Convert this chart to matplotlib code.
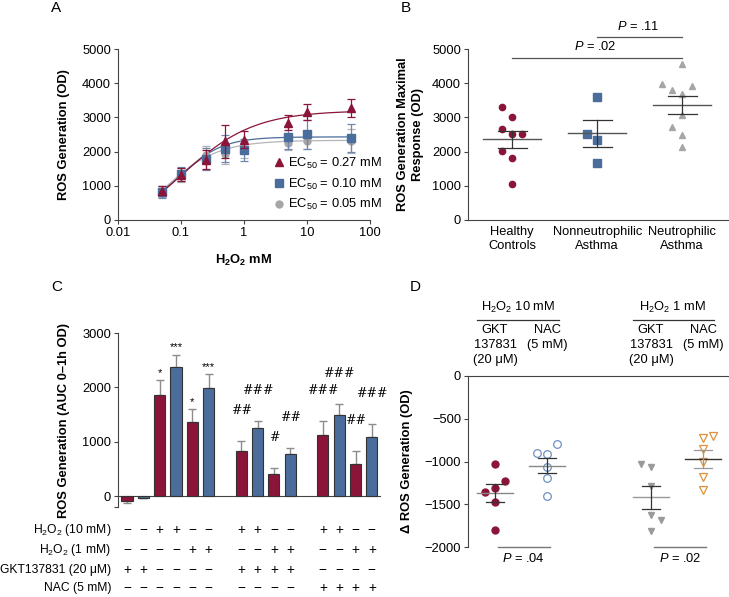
import numpy as np
import matplotlib
matplotlib.use('Agg')
import matplotlib.pyplot as plt
import matplotlib.transforms as mtrans
from matplotlib.lines import Line2D
from matplotlib.ticker import NullLocator

plt.rcParams['font.family'] = ['Liberation Sans', 'DejaVu Sans']
plt.rcParams['mathtext.fontset'] = 'custom'
plt.rcParams['mathtext.rm'] = 'Liberation Sans'
plt.rcParams['mathtext.it'] = 'Liberation Sans:italic'
plt.rcParams['mathtext.bf'] = 'Liberation Sans:bold'
plt.rcParams['font.size'] = 9.3

FS = 9.3
RED = '#8b1538'
BLUE = '#4a6d9c'
GRAY = '#a6a6a6'
ORANGE = '#e0913a'
LBLUE = '#6f90c4'
AXC = '#444444'

# ---- panel A: dose response
conc = [0.05, 0.1, 0.25, 0.5, 1, 5, 10, 50]
a_red = [860, 1330, 1760, 2300, 2350, 2840, 3160, 3280]
a_red_err = [120, 200, 280, 490, 250, 220, 240, 260]
a_blue = [810, 1345, 1780, 2090, 2040, 2420, 2510, 2400]
a_blue_err = [170, 200, 330, 400, 320, 330, 420, 420]
a_gray = [830, 1320, 1900, 1930, 2050, 2250, 2320, 2300]
a_gray_err = [150, 200, 250, 300, 250, 200, 250, 350]
a_labels = ['EC$_{50}$ = 0.27 mM', 'EC$_{50}$ = 0.10 mM', 'EC$_{50}$ = 0.05 mM']
# hill fit parameters (bottom, top, midpoint, slope) for red, blue, gray
fit_bottom = [-600, 200, -600]
fit_top = [3200, 2430, 2330]
fit_mid = [0.1, 0.1, 0.05]
fit_slope = [0.75, 1.3, 1.0]

# ---- panel B: maximal response
b_cats = ['Healthy\nControls', 'Nonneutrophilic\nAsthma', 'Neutrophilic\nAsthma']
b_healthy = [3290, 3000, 2670, 2520, 2520, 2030, 1810, 1040]
b_healthy_jit = [-0.12, 0, -0.12, 0, 0.12, -0.12, 0, 0]
b_non = [3600, 2520, 2330, 1680]
b_non_jit = [0, -0.12, 0, 0]
b_neu = [4570, 3980, 3790, 3680, 3910, 3060, 2710, 2480, 2140]
b_neu_jit = [0, -0.24, -0.12, 0, 0.12, 0, -0.12, 0, 0]

# ---- panel C: bars
c_vals = [-90, -35, 1860, 2370, 1370, 1985, 835, 1260, 400, 775, 1125, 1495, 590, 1090]
c_errs = [45, 0, 270, 230, 235, 265, 185, 130, 120, 117, 265, 197, 246, 230]
c_marks = ['', '', '*', '***', '*', '***', '##', '###', '#', '##', '###', '###', '##', '###']
c_rows = ['H$_2$O$_2$ (10 mM)', 'H$_2$O$_2$ (1 mM)', 'GKT137831 (20 μM)', 'NAC (5 mM)']
c_table = [
    '--++--++--++--',
    '----++--++--++',
    '++----++++----',
    '----------++++',
]

# ---- panel D: delta ROS
d_gkt10 = [-1030, -1230, -1305, -1360, -1470, -1800]
d_gkt10_jit = [0, 0.19, 0, -0.2, 0, 0]
d_nac10 = [-800, -900, -915, -1070, -1195, -1405]
d_nac10_jit = [0.2, -0.19, 0, 0, 0, 0]
d_gkt1 = [-1030, -1070, -1290, -1625, -1690, -1810]
d_gkt1_jit = [-0.19, 0, 0, 0, 0.19, 0]
d_nac1 = [-700, -730, -855, -1000, -1185, -1335]
d_nac1_jit = [0.19, 0, 0, 0, 0, 0]

W, H = 729, 597


def box(l, t, r, b):
    return [l / W, 1 - b / H, (r - l) / W, (b - t) / H]


def fy(px):
    return 1 - px / H


def style(ax):
    for s in ax.spines.values():
        s.set_color(AXC)
        s.set_linewidth(0.8)
    ax.spines['top'].set_visible(False)
    ax.spines['right'].set_visible(False)
    ax.tick_params(direction='out', length=3, width=0.8, color=AXC, labelsize=FS, pad=2)


def mean_sem(ax, x, vals, half=0.34, cap=0.17, mcol='#777777', ccol='#333333'):
    v = np.array(vals, dtype=float)
    m = v.mean()
    s = v.std(ddof=1) / np.sqrt(len(v))
    ax.plot([x - half, x + half], [m, m], color=mcol, lw=1.0, zorder=4)
    ax.plot([x, x], [m - s, m + s], color=ccol, lw=0.9, zorder=4)
    for yy in (m - s, m + s):
        ax.plot([x - cap, x + cap], [yy, yy], color=ccol, lw=0.9, zorder=4)


fig = plt.figure(figsize=(W / 100, H / 100), dpi=100)

# ================= A
axA = fig.add_axes(box(118, 49, 370, 220))
style(axA)
xs = np.logspace(np.log10(0.05), np.log10(50), 200)
curve_cols = [RED, BLUE, '#b5b5b5']
for i in [2, 1, 0]:
    yfit = fit_bottom[i] + (fit_top[i] - fit_bottom[i]) / (1 + (fit_mid[i] / xs) ** fit_slope[i])
    axA.plot(xs, yfit, color=curve_cols[i], lw=0.9, zorder=2)
axA.errorbar(conc, a_gray, yerr=a_gray_err, fmt='o', color=GRAY, ms=5, capsize=3,
             elinewidth=0.9, capthick=0.9, ecolor='#b0b0b0', zorder=3)
axA.errorbar(conc, a_blue, yerr=a_blue_err, fmt='s', color=BLUE, ms=5.5, capsize=3,
             elinewidth=0.9, capthick=0.9, ecolor='#6e88b0', zorder=4)
axA.errorbar(conc, a_red, yerr=a_red_err, fmt='^', color=RED, ms=5.5, capsize=3,
             elinewidth=0.9, capthick=0.9, zorder=5)
axA.set_xscale('log')
axA.set_xlim(0.01, 100)
axA.set_ylim(0, 5000)
axA.set_yticks(range(0, 5001, 1000))
axA.set_xticks([0.01, 0.1, 1, 10, 100])
axA.set_xticklabels(['0.01', '0.1', '1', '10', '100'])
axA.xaxis.set_minor_locator(NullLocator())
axA.set_ylabel('ROS Generation (OD)', fontweight='bold', fontsize=FS)
axA.yaxis.set_label_coords(-0.19, 0.5)
axA.set_xlabel(r'$\mathbf{H_2O_2}$ mM', fontweight='bold', fontsize=FS)
axA.xaxis.set_label_coords(0.5, -0.19)
handles = [Line2D([], [], ls='none', marker='^', color=RED, ms=5.5),
           Line2D([], [], ls='none', marker='s', color=BLUE, ms=5.5),
           Line2D([], [], ls='none', marker='o', color=GRAY, ms=5)]
axA.legend(handles, a_labels, loc='center left', bbox_to_anchor=((274 - 118) / 252, (220 - 184) / 171),
           frameon=False, handlelength=0.8, handletextpad=0.3, labelspacing=0.45,
           fontsize=FS, borderpad=0, borderaxespad=0)

# ================= B
axB = fig.add_axes(box(468, 49, 729, 220))
style(axB)
b_groups = [(b_healthy, b_healthy_jit, 'o', RED, 4.5),
            (b_non, b_non_jit, 's', BLUE, 5.2),
            (b_neu, b_neu_jit, '^', GRAY, 5)]
for i, (vals, jit, mk, col, ms) in enumerate(b_groups):
    axB.plot([i + j for j in jit], vals, ls='none', marker=mk, color=col, ms=ms, zorder=3)
    mean_sem(axB, i, vals, mcol='#555555', ccol='#333333')
axB.set_xlim(-0.52, 2.55)
axB.set_ylim(0, 5000)
axB.set_yticks(range(0, 5001, 1000))
axB.set_xticks([0, 1, 2])
axB.set_xticklabels(b_cats, fontsize=FS, linespacing=1.3)
axB.tick_params(axis='x', length=0, pad=4)
axB.set_ylabel('ROS Generation Maximal\nResponse (OD)', fontweight='bold', fontsize=FS, linespacing=1.25)
axB.yaxis.set_label_coords(-0.17, 0.5)
axB.plot([0, 2], [4740, 4740], color='#555555', lw=0.9, clip_on=False)
axB.plot([1, 2], [5350, 5350], color='#555555', lw=0.9, clip_on=False)
axB.text(0.98, 5060, '$P$ = .02', ha='center', va='center', fontsize=FS)
axB.text(1.48, 5650, '$P$ = .11', ha='center', va='center', fontsize=FS)

# ================= C
axC = fig.add_axes(box(118, 333, 380, 507))
style(axC)
pos = [0, 1, 2, 3, 4, 5, 7, 8, 9, 10, 12, 13, 14, 15]
cols = [RED if i % 2 == 0 else BLUE for i in range(len(c_vals))]
lo = [e if v < 0 else 0 for v, e in zip(c_vals, c_errs)]
hi = [0 if v < 0 else e for v, e in zip(c_vals, c_errs)]
axC.bar(pos, c_vals, width=0.68, color=cols, edgecolor='#333333', linewidth=0.8, zorder=3)
axC.errorbar(pos, c_vals, yerr=[lo, hi], fmt='none', ecolor='#8c8c8c', elinewidth=1.0,
             capsize=3, capthick=1.0, zorder=2)
for p, v, e, m in zip(pos, c_vals, c_errs, c_marks):
    if not m:
        continue
    if m.startswith('*'):
        axC.text(p, v + e + 40, m, ha='center', va='bottom', fontsize=8)
    else:
        axC.text(p, v + e + 560, m, ha='center', va='center', fontsize=9, family='DejaVu Serif')
axC.set_xlim(-0.55, 15.5)
axC.set_ylim(-200, 3000)
axC.spines['bottom'].set_position(('data', 0))
axC.set_xticks([])
axC.set_yticks([0, 1000, 2000, 3000])
axC.set_yticks([-200], minor=True)
axC.tick_params(axis='y', which='minor', length=3, width=0.8, color=AXC)
axC.set_ylabel('ROS Generation (AUC 0–1h OD)', fontweight='bold', fontsize=FS)
axC.yaxis.set_label_coords(-0.182, 0.5)
tr = mtrans.blended_transform_factory(axC.transData, fig.transFigure)
row_y = [530, 550, 570, 588]
for lab, row, yy in zip(c_rows, c_table, row_y):
    fig.text(111 / W, fy(yy), lab, ha='right', va='center', fontsize=8.7)
    for p, ch in zip(pos, row):
        axC.text(p, fy(yy), '+' if ch == '+' else '−', transform=tr, ha='center', va='center',
                 fontsize=FS + 0.5, clip_on=False)

# ================= D
axD = fig.add_axes(box(468, 376, 729, 547))
style(axD)
axD.spines['top'].set_visible(True)
axD.spines['bottom'].set_visible(False)
d_groups = [(0, d_gkt10, d_gkt10_jit, dict(marker='o', color=RED, ms=5), '#888888', '#333333'),
            (1, d_nac10, d_nac10_jit, dict(marker='o', mfc='none', mec=LBLUE, mew=0.9, ms=5.5), '#888888', '#333333'),
            (3, d_gkt1, d_gkt1_jit, dict(marker='v', color='#9a9a9a', ms=4.6), '#999999', '#333333'),
            (4, d_nac1, d_nac1_jit, dict(marker='v', mfc='none', mec=ORANGE, mew=0.9, ms=5.2), '#333333', '#999999')]
for x, vals, jit, kw, mc, cc in d_groups:
    axD.plot([x + j for j in jit], vals, ls='none', zorder=3, **kw)
    mean_sem(axD, x, vals, half=0.35, cap=0.17, mcol=mc, ccol=cc)
axD.set_xlim(-0.52, 4.5)
axD.set_ylim(-2000, 0)
axD.set_yticks(range(-2000, 1, 500))
axD.set_xticks([])
axD.set_ylabel('Δ ROS Generation (OD)', fontweight='bold', fontsize=FS)
axD.yaxis.set_label_coords(-0.21, 0.5)
for x0, x1 in [(0.05, 1.06), (3.05, 4.06)]:
    axD.plot([x0, x1], [-1995, -1995], color='#777777', lw=1.0, clip_on=False)
    axD.text((x0 + x1) / 2, -2130, '$P$ = ' + ('.04' if x0 < 1 else '.02'), ha='center', va='center', fontsize=FS)

trD = mtrans.blended_transform_factory(axD.transData, fig.transFigure)
for cx, l0, l1, lab in [(0.44, -0.35, 1.23, 'H$_2$O$_2$ 10 mM'), (3.42, 2.65, 4.21, 'H$_2$O$_2$ 1 mM')]:
    axD.text(cx, fy(307), lab, transform=trD, ha='center', va='center', fontsize=FS)
    axD.plot([l0, l1], [fy(320), fy(320)], transform=trD, color='#333333', lw=0.9, clip_on=False)
for x, lab in [(0, 'GKT\n137831\n(20 μM)'), (1, 'NAC\n(5 mM)'), (3, 'GKT\n137831\n(20 μM)'), (4, 'NAC\n(5 mM)')]:
    axD.text(x, fy(324), lab, transform=trD, ha='center', va='top', fontsize=FS, linespacing=1.32)

# panel letters
for lab, x, y in [('A', 51, 8), ('B', 401, 8), ('C', 51, 287), ('D', 410, 287)]:
    fig.text(x / W, fy(y), lab, ha='left', va='center', fontsize=11)

fig.savefig('out.png', dpi=100)
